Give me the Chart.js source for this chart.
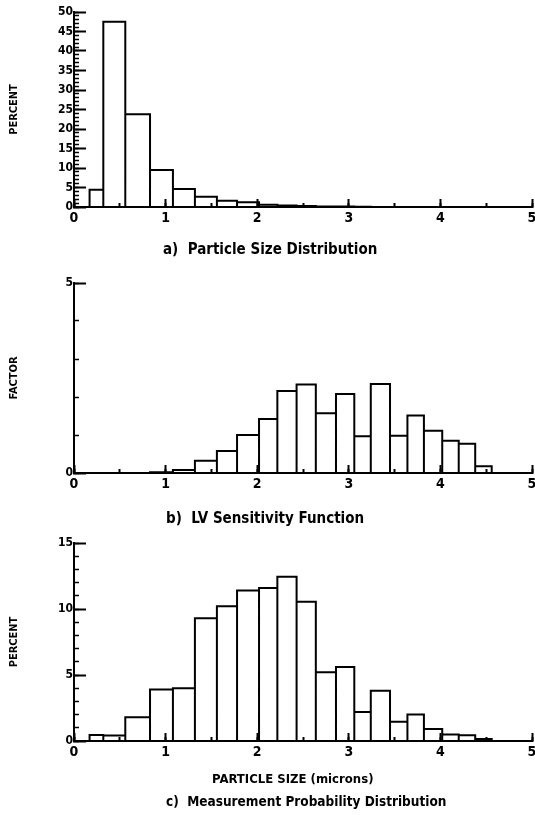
<!DOCTYPE html>
<html><head><meta charset="utf-8">
<script src="https://cdn.jsdelivr.net/npm/chart.js@4.4.1/dist/chart.umd.min.js"></script>
<style>
html,body{margin:0;padding:0;background:#fff;}
#wrap{position:relative;width:535px;height:815px;overflow:hidden;}
canvas{position:absolute;left:0;}
</style></head><body>
<div id="wrap">
<canvas id="ca" width="535" height="265" style="top:0"></canvas>
<canvas id="cb" width="535" height="265" style="top:265px"></canvas>
<canvas id="cc" width="535" height="285" style="top:530px"></canvas>
</div>
<script>
// ---- data ----
const binEdges = [0.17,0.32,0.56,0.83,1.08,1.32,1.56,1.78,2.02,2.22,2.43,2.64,2.86,3.06,3.24,3.45,3.64,3.82,4.02,4.20,4.38,4.56];
const sizeDistPercent = [4.4,47.5,23.8,9.5,4.6,2.6,1.6,1.2,0.6,0.4,0.25,0.15,0.1,0.05,0,0,0,0,0,0,0];
const lvSensitivity   = [0,0,0,0.02,0.08,0.32,0.58,1.0,1.42,2.16,2.33,1.57,2.08,0.97,2.34,0.98,1.51,1.11,0.85,0.77,0.18];
const measProbPercent = [0.45,0.42,1.8,3.9,4.0,9.3,10.2,11.4,11.6,12.45,10.55,5.2,5.6,2.2,3.8,1.45,2.0,0.9,0.5,0.43,0.15];
const xTickLabels = ['0','1','2','3','4','5'];
const yTicksA = [0,5,10,15,20,25,30,35,40,45,50];
const yTicksB = [0,5];
const yTicksC = [0,5,10,15];

const FONT = "'DejaVu Sans Condensed','Liberation Sans Narrow','DejaVu Sans',sans-serif";

function outline(edges, h){
  const pts = [];
  for (let i = 0; i < h.length; i++){
    pts.push({x:edges[i],y:0},{x:edges[i],y:h[i]},{x:edges[i+1],y:h[i]},{x:edges[i+1],y:0});
  }
  return pts;
}

const captionPlugin = {
  id:'caption',
  afterDraw(chart, args, opts){
    const ctx = chart.ctx;
    ctx.save();
    ctx.fillStyle = '#000';
    ctx.textBaseline = 'middle';
    ctx.textAlign = 'left';
    (opts.lines || []).forEach(l => {
      ctx.font = 'bold ' + (l.size || 13) + 'px ' + FONT;
      ctx.fillText(l.text, l.x, l.y);
    });
    ctx.restore();
  }
};
Chart.register(captionPlugin);

function makeChart(id, heights, yMax, yMajor, yTitle, padTop, xHeight, captions){
  return new Chart(document.getElementById(id), {
    type:'scatter',
    data:{datasets:[{
      data: outline(binEdges, heights), showLine:true, borderColor:'#000', borderWidth:2,
      pointRadius:0, pointHoverRadius:0, tension:0, fill:false, clip:false,
      borderJoinStyle:'miter'
    }]},
    options:{
      responsive:false, animation:false, devicePixelRatio:1, events:[],
      layout:{padding:{top:padTop, right:3, left:0, bottom:0}},
      plugins:{legend:{display:false}, tooltip:{enabled:false}, caption:{lines:captions}},
      scales:{
        x:{type:'linear', position:'bottom', min:0, max:5, weight:1,
          afterBuildTicks: s => { s.ticks = xTickLabels.map((t,i)=>({value:i})); },
          ticks:{callback:(v,i)=>xTickLabels[i], color:'#000', font:{family:FONT,size:14,weight:'bold'}, padding:11, autoSkip:false, maxRotation:0},
          grid:{drawOnChartArea:false, tickLength:-8, tickWidth:2, tickColor:'#000'},
          border:{display:true, color:'#000', width:2},
          afterFit: s => { s.height = xHeight; s.paddingLeft = 0; s.paddingRight = 0; }
        },
        xm:{type:'linear', position:'bottom', min:0, max:5, weight:0,
          ticks:{display:false, stepSize:0.5, autoSkip:false},
          grid:{drawOnChartArea:false, tickLength:-4, tickWidth:2, tickColor:'#000'},
          border:{display:false},
          afterFit: s => { s.height = 0; s.paddingLeft = 0; s.paddingRight = 0; }
        },
        y:{type:'linear', position:'left', min:0, max:yMax, weight:1,
          afterBuildTicks: s => { s.ticks = yMajor.map(v=>({value:v})); },
          ticks:{callback:(v,i)=>String(yMajor[i]), color:'#000', font:{family:FONT,size:12,weight:'bold'}, padding:13, autoSkip:false},
          grid:{drawOnChartArea:false, tickLength:-12, tickWidth:2, tickColor:'#000'},
          border:{display:true, color:'#000', width:2},
          title:{display:true, text:yTitle, color:'#000', font:{family:FONT,size:11,weight:'bold'}, padding:{top:8,bottom:0}},
          afterFit: s => { s.width = 74; s.paddingTop = 0; s.paddingBottom = 0; }
        },
        ym:{type:'linear', position:'left', min:0, max:yMax, weight:0,
          ticks:{display:false, stepSize:1, autoSkip:false},
          grid:{drawOnChartArea:false, tickLength:-5, tickWidth:1.5, tickColor:'#000'},
          border:{display:false},
          afterFit: s => { s.width = 0; s.paddingTop = 0; s.paddingBottom = 0; }
        }
      }
    }
  });
}

makeChart('ca', sizeDistPercent, 50, yTicksA, 'PERCENT', 12, 58,
  [{text:'a)  Particle Size Distribution', x:163, y:250, size:15}]);
makeChart('cb', lvSensitivity, 5, yTicksB, 'FACTOR', 18, 57,
  [{text:'b)  LV Sensitivity Function', x:166, y:254, size:15}]);
makeChart('cc', measProbPercent, 15, yTicksC, 'PERCENT', 13, 74,
  [{text:'PARTICLE SIZE (microns)', x:212, y:250, size:13},
   {text:'c)  Measurement Probability Distribution', x:166, y:272, size:13.5}]);
</script>
</body></html>
